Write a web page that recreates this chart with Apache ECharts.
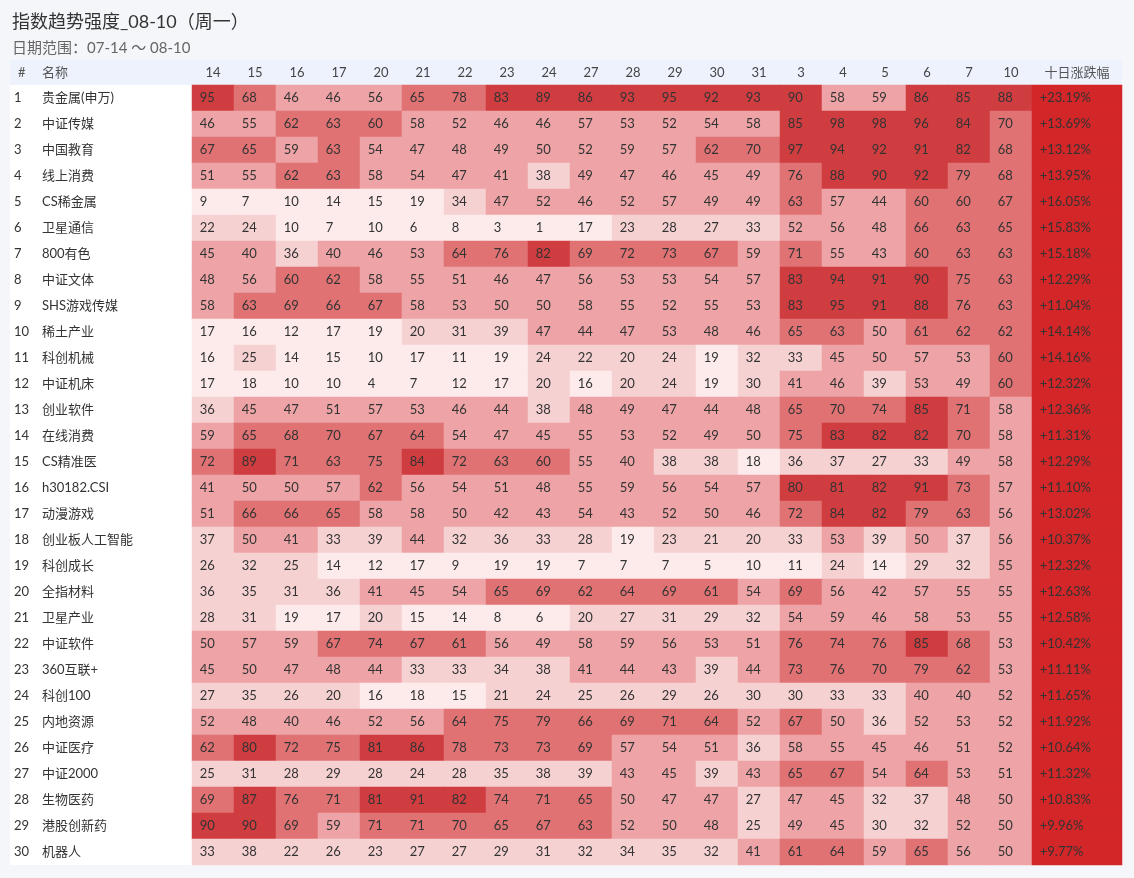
<!DOCTYPE html>
<html><head><meta charset="utf-8">
<script src="https://cdn.jsdelivr.net/npm/echarts@6/dist/echarts.min.js"></script>
<style>html,body{margin:0;padding:0;background:#f5f6fa;}#c{width:1134px;height:878px;}</style>
</head><body><div id="c"></div>
<script>
const dates = ['14','15','16','17','20','21','22','23','24','27','28','29','30','31','3','4','5','6','7','10'];
const names = ['贵金属(申万)','中证传媒','中国教育','线上消费','CS稀金属','卫星通信','800有色','中证文体','SHS游戏传媒','稀土产业',
  '科创机械','中证机床','创业软件','在线消费','CS精准医','h30182.CSI','动漫游戏','创业板人工智能','科创成长','全指材料',
  '卫星产业','中证软件','360互联+','科创100','内地资源','中证医疗','中证2000','生物医药','港股创新药','机器人'];
const strength = [
  [95,68,46,46,56,65,78,83,89,86,93,95,92,93,90,58,59,86,85,88],
  [46,55,62,63,60,58,52,46,46,57,53,52,54,58,85,98,98,96,84,70],
  [67,65,59,63,54,47,48,49,50,52,59,57,62,70,97,94,92,91,82,68],
  [51,55,62,63,58,54,47,41,38,49,47,46,45,49,76,88,90,92,79,68],
  [9,7,10,14,15,19,34,47,52,46,52,57,49,49,63,57,44,60,60,67],
  [22,24,10,7,10,6,8,3,1,17,23,28,27,33,52,56,48,66,63,65],
  [45,40,36,40,46,53,64,76,82,69,72,73,67,59,71,55,43,60,63,63],
  [48,56,60,62,58,55,51,46,47,56,53,53,54,57,83,94,91,90,75,63],
  [58,63,69,66,67,58,53,50,50,58,55,52,55,53,83,95,91,88,76,63],
  [17,16,12,17,19,20,31,39,47,44,47,53,48,46,65,63,50,61,62,62],
  [16,25,14,15,10,17,11,19,24,22,20,24,19,32,33,45,50,57,53,60],
  [17,18,10,10,4,7,12,17,20,16,20,24,19,30,41,46,39,53,49,60],
  [36,45,47,51,57,53,46,44,38,48,49,47,44,48,65,70,74,85,71,58],
  [59,65,68,70,67,64,54,47,45,55,53,52,49,50,75,83,82,82,70,58],
  [72,89,71,63,75,84,72,63,60,55,40,38,38,18,36,37,27,33,49,58],
  [41,50,50,57,62,56,54,51,48,55,59,56,54,57,80,81,82,91,73,57],
  [51,66,66,65,58,58,50,42,43,54,43,52,50,46,72,84,82,79,63,56],
  [37,50,41,33,39,44,32,36,33,28,19,23,21,20,33,53,39,50,37,56],
  [26,32,25,14,12,17,9,19,19,7,7,7,5,10,11,24,14,29,32,55],
  [36,35,31,36,41,45,54,65,69,62,64,69,61,54,69,56,42,57,55,55],
  [28,31,19,17,20,15,14,8,6,20,27,31,29,32,54,59,46,58,53,55],
  [50,57,59,67,74,67,61,56,49,58,59,56,53,51,76,74,76,85,68,53],
  [45,50,47,48,44,33,33,34,38,41,44,43,39,44,73,76,70,79,62,53],
  [27,35,26,20,16,18,15,21,24,25,26,29,26,30,30,33,33,40,40,52],
  [52,48,40,46,52,56,64,75,79,66,69,71,64,52,67,50,36,52,53,52],
  [62,80,72,75,81,86,78,73,73,69,57,54,51,36,58,55,45,46,51,52],
  [25,31,28,29,28,24,28,35,38,39,43,45,39,43,65,67,54,64,53,51],
  [69,87,76,71,81,91,82,74,71,65,50,47,47,27,47,45,32,37,48,50],
  [90,90,69,59,71,71,70,65,67,63,52,50,48,25,49,45,30,32,52,50],
  [33,38,22,26,23,27,27,29,31,32,34,35,32,41,61,64,59,65,56,50]
];
const tenDayChange = [23.19,13.69,13.12,13.95,16.05,15.83,15.18,12.29,11.04,14.14,14.16,12.32,12.36,11.31,12.29,11.10,13.02,10.37,12.32,12.63,12.58,10.42,11.11,11.65,11.92,10.64,11.32,10.83,9.96,9.77];
const changeHeader = ['十日涨跌幅'];

const FONT = 'Lato, "Noto Sans CJK SC", sans-serif';
const heatData = [];
strength.forEach((row, r) => row.forEach((v, c) => heatData.push([c, r, v])));
const chgData = tenDayChange.map((v, r) => [0, r, v]);

const chart = echarts.init(document.getElementById('c'), null, {renderer: 'canvas'});
chart.setOption({
  backgroundColor: '#f5f6fa',
  animation: false,
  textStyle: {fontFamily: FONT},
  title: [
    {text: '指数趋势强度_08-10（周一）', left: 7, top: 8, textStyle: {fontSize: 18, fontWeight: 'normal', color: '#333', fontFamily: FONT}},
    {text: '日期范围：07-14 ～ 08-10', left: 7, top: 36, textStyle: {fontSize: 15, fontWeight: 'normal', color: '#666', fontFamily: FONT}}
  ],
  grid: [
    {left: 192, top: 85, width: 840, height: 780},
    {left: 1032, top: 85, width: 90, height: 780},
    {left: 10, top: 60, width: 1112, height: 25, show: true, backgroundColor: '#eef2fd', borderWidth: 0},
    {left: 10, top: 85, width: 1112, height: 780, show: true, backgroundColor: '#ffffff', borderWidth: 0}
  ],
  xAxis: [
    {type: 'category', gridIndex: 0, data: dates, position: 'top', axisLine: {show: false}, axisTick: {show: false}, splitLine: {show: false},
     axisLabel: {margin: 6, fontSize: 13, color: '#444', fontFamily: FONT}},
    {type: 'category', gridIndex: 1, data: changeHeader, position: 'top', axisLine: {show: false}, axisTick: {show: false},
     axisLabel: {margin: 6, fontSize: 13, color: '#555', fontFamily: FONT}},
    {type: 'value', gridIndex: 2, show: false},
    {type: 'value', gridIndex: 3, show: false}
  ],
  yAxis: [
    {type: 'category', gridIndex: 0, data: names, inverse: true, axisLine: {show: false}, axisTick: {show: false}, splitLine: {show: false},
     axisLabel: {align: 'left', margin: 178, fontSize: 13, color: '#333', fontFamily: FONT,
       formatter: (v, i) => '{i|' + (i + 1) + '}{n|' + v + '}',
       rich: {i: {width: 28, fontSize: 13, color: '#333', fontFamily: FONT}, n: {fontSize: 13, color: '#333', fontFamily: FONT}}}},
    {type: 'category', gridIndex: 1, data: names, inverse: true, show: false},
    {type: 'value', gridIndex: 2, show: false},
    {type: 'value', gridIndex: 3, show: false}
  ],
  graphic: [
    {type: 'text', left: 18, top: 66, style: {text: '#', fill: '#555', font: '13px ' + FONT}},
    {type: 'text', left: 42, top: 66, style: {text: '名称', fill: '#555', font: '13px ' + FONT}}
  ],
  visualMap: [
    {type: 'piecewise', seriesIndex: 0, show: false, dimension: 2,
     pieces: [
       {gte: 0, lt: 20, color: '#fdebec'},
       {gte: 20, lt: 40, color: '#f6d1d2'},
       {gte: 40, lt: 60, color: '#eea4a6'},
       {gte: 60, lt: 80, color: '#e07274'},
       {gte: 80, color: '#cf3d40'}
     ]},
    {type: 'piecewise', seriesIndex: 1, show: false, dimension: 2,
     pieces: [{gte: -1000, lte: 1000, color: '#d32628'}]}
  ],
  series: [
    {type: 'heatmap', xAxisIndex: 0, yAxisIndex: 0, data: heatData,
     label: {show: true, position: 'insideLeft', distance: 8, fontSize: 13, color: '#333', fontFamily: FONT,
       formatter: p => p.value[2]},
     itemStyle: {borderWidth: 0}, emphasis: {disabled: true}},
    {type: 'heatmap', xAxisIndex: 1, yAxisIndex: 1, data: chgData,
     label: {show: true, position: 'insideLeft', distance: 8, fontSize: 13, color: '#333', fontFamily: FONT,
       formatter: p => (p.value[2] >= 0 ? '+' : '') + p.value[2].toFixed(2) + '%'},
     itemStyle: {borderWidth: 0}, emphasis: {disabled: true}}
  ]
});
</script></body></html>
